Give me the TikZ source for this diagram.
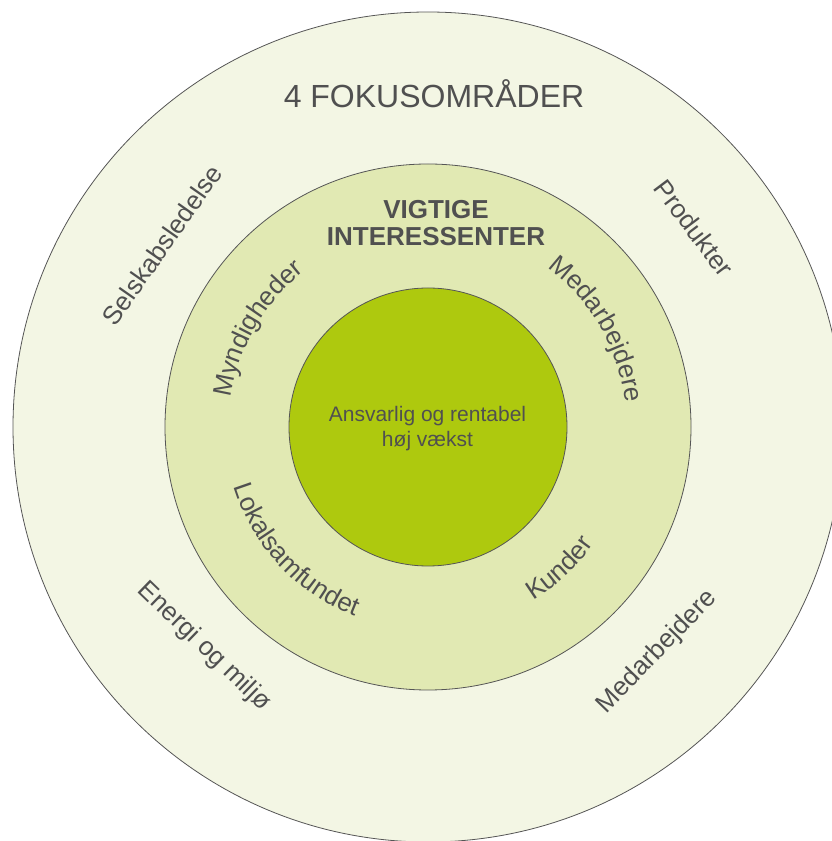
\documentclass[tikz,border=0pt]{standalone}
\usepackage{fontspec}
\setmainfont{Liberation Sans}
\usetikzlibrary{decorations.text}
\definecolor{outerfill}{HTML}{F3F6E4}
\definecolor{midfill}{HTML}{E1E9B3}
\definecolor{innerfill}{HTML}{AEC90E}
\definecolor{edge}{HTML}{555555}
\definecolor{txt}{HTML}{505050}
\begin{document}
\begin{tikzpicture}[x=1pt,y=1pt,
  ring/.style={circle, draw=edge, line width=0.8pt, inner sep=0pt, outer sep=0pt},
  ringlabel/.style={font=\fontsize{26}{26}\selectfont, text=txt, inner sep=0pt},
  curved/.style={decorate, decoration={text along path, text={|\fontsize{26}{26}\selectfont|#1}, text align=center, text color=txt}}
]
\useasboundingbox (0,0) rectangle (832,841);
\clip (0,0) rectangle (832,841);
\coordinate (C) at (428,414);
\node[ring, fill=outerfill, minimum size=830pt] (outer) at (C) {};
\node[ring, fill=midfill, minimum size=526pt] (middle) at (C) {};
\node[ring, fill=innerfill, minimum size=278pt] (inner) at (C) {};

% titles
\node[font=\fontsize{32}{38}\selectfont, text=txt, anchor=base, inner sep=0pt] (title) at (434,733) {4 FOKUSOMRÅDER};
\node[font=\fontsize{26}{27}\selectfont\bfseries, text=txt, anchor=base, inner sep=0pt] (vig1) at (436,622) {VIGTIGE};
\node[font=\fontsize{26}{27}\selectfont\bfseries, text=txt, anchor=base, inner sep=0pt] (vig2) at (436,595) {INTERESSENTER};
\node[font=\fontsize{21}{25}\selectfont, text=txt, anchor=base, inner sep=0pt] (core1) at (427.5,419.3) {Ansvarlig og rentabel};
\node[font=\fontsize{21}{25}\selectfont, text=txt, anchor=base, inner sep=0pt] (core2) at (427.5,394.3) {høj vækst};

% outer ring labels
\node[ringlabel, rotate=55] (sel) at (162,596) {Selskabsledelse};
\node[ringlabel, rotate=-53] (prod) at (694,613) {Produkter};
\node[ringlabel, rotate=-44] (energi) at (204,194) {Energi og miljø};
\node[ringlabel, rotate=46] (medo) at (657,189) {Medarbejdere};

% inner ring labels (curved)
\begin{scope}[shift={(C)}]
\path[curved=Myndigheder] (195:199pt) arc[start angle=195, end angle=105, radius=199pt];
\path[curved=Medarbejdere] (75:199pt) arc[start angle=75, end angle=-15, radius=199pt];
\path[curved=Lokalsamfundet] (178:203pt) arc[start angle=178, end angle=268, radius=203pt];
\path[curved=Kunder] (268:203pt) arc[start angle=268, end angle=358, radius=203pt];
\end{scope}
\end{tikzpicture}
\end{document}
